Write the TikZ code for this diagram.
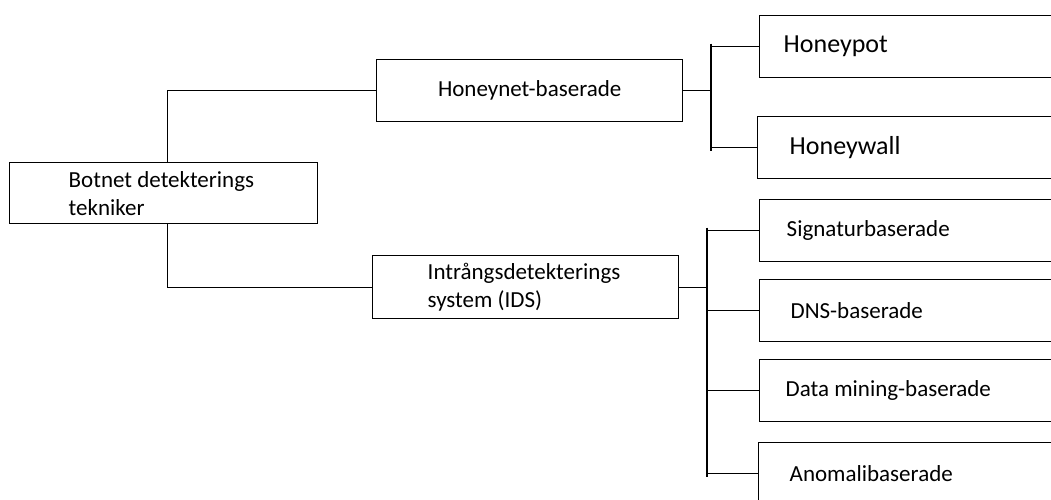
\documentclass[tikz,border=0pt]{standalone}
\usepackage{fontspec}
\setmainfont{Carlito}
\usetikzlibrary{calc}

\begin{document}
\begin{tikzpicture}[x=1pt,y=-1pt,line width=1.4pt,
  box/.style={draw,anchor=north west,minimum height=62,inner ysep=0,font=\fontsize{23}{28}\selectfont},
  leaf/.style={box,text width=400,align=flush left}]
\useasboundingbox (0,0) rectangle (1051,499);
\clip (0,0) rectangle (1051,499);
% left part
\node[box,text width=190,inner xsep=59,align=flush left,minimum height=61] (root) at (9,162) {Botnet detekterings\\tekniker};
\node[box,minimum width=306] (honeynet) at (376,59) {Honeynet-baserade};
\node[box,text width=196,inner xsep=55,align=flush left,minimum height=63] (ids) at (372,255) {Intrångsdetekterings\\system (IDS)};
% right part
\node[leaf,inner xsep=24,font=\fontsize{26}{30}\selectfont] (honeypot) at (759,15) {Honeypot};
\node[leaf,inner xsep=32,font=\fontsize{26}{30}\selectfont] (honeywall) at (757,116) {Honeywall};
\node[leaf,inner xsep=27] (signatur) at (759,199) {Signaturbaserade};
\node[leaf,inner xsep=31] (dns) at (759,279) {DNS-baserade};
\node[leaf,inner xsep=26] (mining) at (759,359) {Data mining-baserade};
\node[leaf,inner xsep=31] (anomali) at (758,442) {Anomalibaserade};
% connectors
\draw ($(root.north)+(4,0)$) |- (honeynet.west);
\draw ($(root.south)+(4,0)$) |- (ids.west);
\coordinate (hbus) at (711,87);
\coordinate (ibus) at (707,289);
\draw (honeynet.east) -- (honeynet.east -| hbus);
\draw ($(hbus |- honeypot.west)+(0,-3)$) -- ($(hbus |- honeywall.west)+(0,3)$);
\foreach \n in {honeypot,honeywall}
  \draw (hbus |- \n.west) -- (\n.west);
\draw (ids.east) -- (ids.east -| ibus);
\draw ($(ibus |- signatur.west)+(0,-3)$) -- ($(ibus |- anomali.west)+(0,3)$);
\foreach \n in {signatur,dns,mining,anomali}
  \draw (ibus |- \n.west) -- (\n.west);
\end{tikzpicture}
\end{document}
